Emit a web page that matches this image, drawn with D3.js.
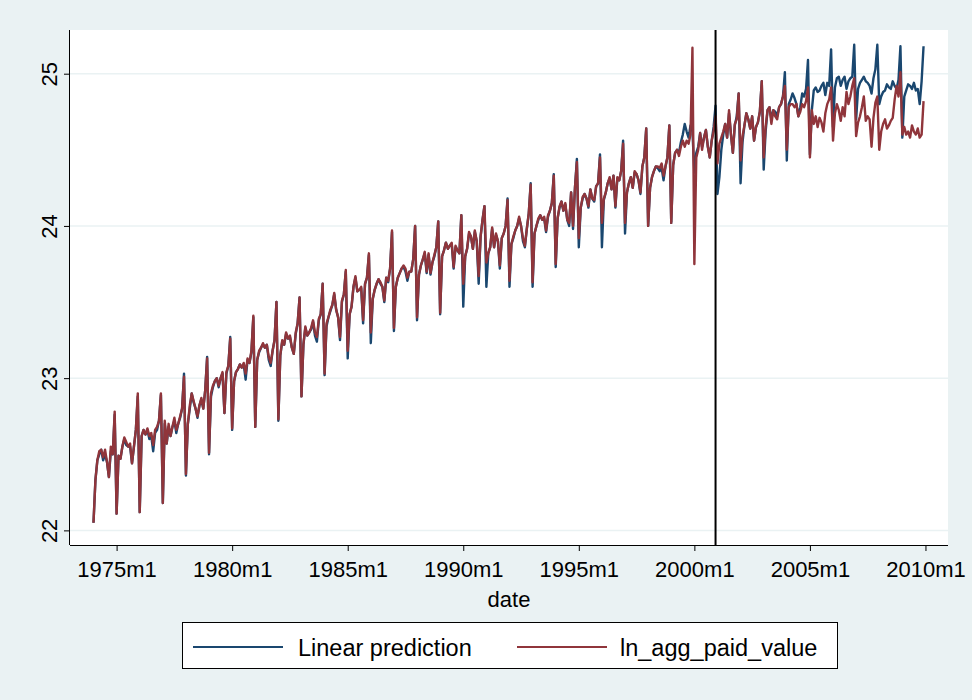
<!DOCTYPE html>
<html>
<head>
<meta charset="utf-8">
<script src="https://cdn.jsdelivr.net/npm/d3@7"></script>
<style>
  html, body { margin: 0; padding: 0; background: #eaf2f3; }
  svg { display: block; }
  text { font-family: "Liberation Sans", Arial, sans-serif; fill: #000; }
</style>
</head>
<body>
<svg id="chart" width="972" height="700"></svg>
<script>
// ---- data (monthly, 1974m1 .. 2009m12) ----
const startYear = 1974;
const seriesNames = ["Linear prediction", "ln_agg_paid_value"];
const xTickLabels = ["1975m1","1980m1","1985m1","1990m1","1995m1","2000m1","2005m1","2010m1"];
const yTickValues = [22, 23, 24, 25];
const tlineLabel = "2000m12";
const xTitle = "date";

const lnAggPaidValue = [
  22.05,22.33,22.46,22.52,22.53,22.48,22.53,22.45,22.35,22.55,22.50,22.78,
  22.11,22.49,22.47,22.55,22.61,22.58,22.55,22.57,22.44,22.55,22.66,22.90,
  22.12,22.62,22.66,22.63,22.67,22.62,22.64,22.56,22.66,22.68,22.72,22.90,
  22.18,22.72,22.57,22.70,22.62,22.68,22.74,22.66,22.70,22.75,22.80,23.01,
  22.37,22.70,22.82,22.90,22.85,22.80,22.75,22.82,22.87,22.80,22.92,23.13,
  22.51,22.90,22.95,22.98,23.00,22.95,23.00,23.04,22.77,23.04,23.08,23.26,
  22.67,22.98,23.04,23.06,23.09,23.07,23.10,23.03,23.13,23.10,23.18,23.41,
  22.68,23.12,23.18,23.20,23.23,23.20,23.22,23.14,23.10,23.18,23.25,23.50,
  22.73,23.15,23.25,23.22,23.30,23.26,23.28,23.20,23.16,23.30,23.36,23.53,
  22.88,23.22,23.34,23.28,23.30,23.33,23.38,23.30,23.27,23.39,23.42,23.62,
  23.03,23.36,23.40,23.45,23.48,23.56,23.45,23.40,23.27,23.51,23.55,23.71,
  23.18,23.42,23.47,23.60,23.67,23.57,23.58,23.60,23.38,23.62,23.66,23.82,
  23.30,23.52,23.58,23.62,23.65,23.63,23.60,23.51,23.66,23.64,23.72,23.97,
  23.33,23.60,23.66,23.69,23.72,23.74,23.72,23.66,23.70,23.70,23.78,24.00,
  23.40,23.68,23.74,23.78,23.83,23.70,23.82,23.69,23.76,23.81,23.86,24.03,
  23.43,23.80,23.84,23.89,23.85,23.87,23.89,23.73,23.87,23.84,23.82,24.07,
  23.62,23.80,23.85,23.96,23.93,23.85,23.97,23.90,23.67,23.93,24.04,24.13,
  23.76,23.82,23.86,23.99,23.86,23.95,23.90,23.74,23.92,23.95,24.00,24.17,
  23.64,23.88,23.93,23.97,24.00,24.06,24.00,23.92,23.87,23.98,24.08,24.27,
  23.63,23.95,24.00,24.05,24.07,24.04,24.06,23.97,24.07,24.10,24.15,24.33,
  23.75,24.05,24.13,24.16,24.10,24.15,24.04,24.02,24.22,24.00,24.25,24.42,
  23.92,24.12,24.19,24.21,24.18,24.13,24.24,24.18,24.17,24.26,24.28,24.45,
  24.02,24.18,24.22,24.28,24.32,24.24,24.33,24.13,24.32,24.30,24.36,24.54,
  24.02,24.22,24.28,24.32,24.25,24.36,24.34,24.30,24.22,24.39,24.45,24.64,
  24.00,24.25,24.32,24.36,24.39,24.39,24.38,24.41,24.33,24.39,24.45,24.66,
  24.02,24.40,24.48,24.50,24.46,24.52,24.56,24.52,24.56,24.54,24.60,25.17,
  23.75,24.45,24.50,24.61,24.50,24.58,24.63,24.52,24.45,24.56,24.62,24.72,
  24.41,24.54,24.58,24.62,24.67,24.58,24.76,24.60,24.48,24.67,24.70,24.87,
  24.43,24.59,24.66,24.74,24.70,24.64,24.72,24.56,24.65,24.68,24.75,24.95,
  24.45,24.65,24.76,24.78,24.67,24.76,24.72,24.70,24.78,24.80,24.85,24.92,
  24.50,24.78,24.80,24.80,24.78,24.80,24.72,24.75,24.80,24.78,24.82,24.91,
  24.45,24.76,24.67,24.72,24.65,24.71,24.68,24.62,24.74,24.80,24.83,24.91,
  24.56,24.74,24.80,24.76,24.69,24.78,24.72,24.88,24.80,24.85,24.92,24.97,
  24.59,24.68,24.72,24.78,24.85,24.69,24.72,24.70,24.52,24.71,24.81,24.85,
  24.50,24.62,24.67,24.70,24.64,24.66,24.69,24.71,24.83,24.92,24.85,25.01,
  24.60,24.65,24.60,24.62,24.58,24.66,24.62,24.60,24.64,24.58,24.60,24.82
];

const linearPrediction = [
  22.05,22.33,22.46,22.50,22.53,22.46,22.50,22.45,22.35,22.52,22.50,22.76,
  22.11,22.49,22.47,22.55,22.60,22.56,22.55,22.55,22.44,22.55,22.66,22.88,
  22.12,22.62,22.66,22.63,22.66,22.60,22.62,22.52,22.64,22.66,22.72,22.89,
  22.18,22.70,22.57,22.68,22.62,22.68,22.72,22.64,22.70,22.74,22.80,23.03,
  22.36,22.70,22.80,22.90,22.84,22.80,22.74,22.82,22.86,22.80,22.92,23.14,
  22.50,22.88,22.94,22.98,23.00,22.94,23.00,23.03,22.77,23.03,23.08,23.27,
  22.66,22.98,23.04,23.06,23.09,23.07,23.09,22.99,23.12,23.10,23.17,23.40,
  22.68,23.12,23.17,23.20,23.22,23.20,23.22,23.12,23.08,23.18,23.25,23.50,
  22.72,23.15,23.24,23.22,23.29,23.26,23.27,23.20,23.16,23.29,23.36,23.53,
  22.88,23.22,23.33,23.28,23.30,23.32,23.37,23.28,23.24,23.38,23.42,23.62,
  23.02,23.34,23.40,23.44,23.48,23.55,23.45,23.40,23.25,23.50,23.55,23.70,
  23.13,23.42,23.47,23.60,23.66,23.57,23.58,23.59,23.36,23.62,23.66,23.81,
  23.23,23.52,23.58,23.62,23.65,23.62,23.60,23.50,23.66,23.63,23.72,23.96,
  23.31,23.60,23.66,23.69,23.72,23.73,23.70,23.64,23.70,23.70,23.78,24.00,
  23.38,23.68,23.74,23.78,23.82,23.69,23.81,23.68,23.76,23.80,23.86,24.03,
  23.42,23.80,23.84,23.89,23.85,23.87,23.88,23.72,23.86,23.84,23.82,24.07,
  23.47,23.80,23.85,23.95,23.93,23.85,23.96,23.90,23.62,23.93,24.04,24.13,
  23.60,23.82,23.86,23.98,23.86,23.94,23.90,23.72,23.92,23.95,24.00,24.18,
  23.60,23.88,23.92,23.97,24.00,24.05,24.00,23.90,23.86,23.98,24.08,24.28,
  23.60,23.95,24.00,24.04,24.07,24.04,24.05,23.96,24.06,24.10,24.15,24.34,
  23.73,24.05,24.12,24.16,24.10,24.14,24.04,24.00,24.22,23.98,24.25,24.44,
  23.86,24.12,24.18,24.21,24.18,24.12,24.24,24.18,24.16,24.26,24.28,24.47,
  23.86,24.17,24.22,24.28,24.31,24.24,24.33,24.12,24.31,24.30,24.36,24.56,
  23.95,24.22,24.28,24.32,24.25,24.35,24.34,24.30,24.21,24.39,24.45,24.64,
  24.00,24.25,24.32,24.36,24.39,24.38,24.36,24.38,24.30,24.39,24.45,24.66,
  24.02,24.40,24.48,24.50,24.48,24.55,24.60,24.67,24.62,24.58,24.66,24.62,
  24.35,24.48,24.52,24.61,24.52,24.58,24.63,24.52,24.45,24.56,24.65,24.79,
  24.21,24.32,24.50,24.60,24.67,24.58,24.74,24.60,24.48,24.66,24.72,24.87,
  24.28,24.55,24.66,24.74,24.70,24.64,24.72,24.56,24.65,24.68,24.75,24.95,
  24.37,24.62,24.76,24.78,24.70,24.76,24.75,24.72,24.78,24.80,24.85,25.01,
  24.43,24.80,24.83,24.87,24.84,24.80,24.72,24.78,24.87,24.85,24.90,25.09,
  24.47,24.76,24.89,24.91,24.88,24.89,24.92,24.94,24.86,24.94,24.92,25.16,
  24.65,24.91,24.97,24.98,24.92,24.96,24.98,24.90,24.95,24.97,24.98,25.19,
  24.70,24.90,24.94,24.96,24.98,24.95,24.94,24.92,24.87,24.97,25.03,25.19,
  24.80,24.85,24.88,24.89,24.93,24.91,24.90,24.95,24.92,24.90,24.96,25.18,
  24.58,24.85,24.89,24.93,24.92,24.90,24.94,24.89,24.90,24.80,24.95,25.18
];

// ---- helpers ----
function monthIndex(label) {           // "YYYYmM" -> months since 1974m1
  const m = label.match(/(\d{4})m(\d+)/);
  return (+m[1] - startYear) * 12 + (+m[2] - 1);
}

const svg = d3.select("#chart");
const W = 972, H = 700;
const plot = { left: 70, right: 948, top: 30, bottom: 545 };

svg.append("rect").attr("width", W).attr("height", H).attr("fill", "#eaf2f3");
svg.append("rect")
  .attr("x", plot.left).attr("y", plot.top)
  .attr("width", plot.right - plot.left).attr("height", plot.bottom - plot.top)
  .attr("fill", "#ffffff");

const x = d3.scaleLinear().domain([-12.2, 443.7]).range([plot.left, plot.right]);
const y = d3.scaleLinear().domain([21.904, 25.287]).range([plot.bottom, plot.top]);

// grid
svg.append("g").selectAll("line").data(yTickValues).join("line")
  .attr("x1", plot.left).attr("x2", plot.right)
  .attr("y1", d => y(d)).attr("y2", d => y(d))
  .attr("stroke", "#eaf2f3").attr("stroke-width", 1.5);

// lines
const line = d3.line().x((d, i) => x(i)).y(d => y(d));
svg.append("path").datum(linearPrediction)
  .attr("d", line).attr("fill", "none")
  .attr("stroke", "#1a476f").attr("stroke-width", 2.4).attr("stroke-linejoin", "round");
svg.append("path").datum(lnAggPaidValue)
  .attr("d", line).attr("fill", "none")
  .attr("stroke", "#90353b").attr("stroke-width", 2.4).attr("stroke-linejoin", "round");

// vertical reference line
svg.append("line")
  .attr("x1", x(monthIndex(tlineLabel))).attr("x2", x(monthIndex(tlineLabel)))
  .attr("y1", plot.top).attr("y2", plot.bottom)
  .attr("stroke", "#000").attr("stroke-width", 2);

// axes
const xAxis = d3.axisBottom(x)
  .tickValues(xTickLabels.map(monthIndex))
  .tickFormat((d, i) => xTickLabels[i])
  .tickSizeOuter(0).tickSize(6).tickPadding(6);
const gx = svg.append("g").attr("transform", `translate(0,${plot.bottom})`).call(xAxis);
gx.select(".domain").attr("stroke", "#000").attr("d", `M${plot.left},0.5H${plot.right}`);
gx.selectAll(".tick line").attr("stroke", "#000");
gx.selectAll(".tick text").attr("font-size", 22).attr("font-family", "Liberation Sans, Arial, sans-serif").attr("dy", "0.9em");

const yAxis = d3.axisLeft(y).tickValues(yTickValues).tickSizeOuter(0).tickSize(6).tickFormat(d3.format("d"));
const gy = svg.append("g").attr("transform", `translate(${plot.left},0)`).call(yAxis);
gy.select(".domain").attr("stroke", "#000").attr("d", `M-0.5,${plot.top}V${plot.bottom}`);
gy.selectAll(".tick line").attr("stroke", "#000");
gy.selectAll(".tick text").remove();
gy.selectAll(".tick").append("text")
  .attr("transform", "translate(-13,0) rotate(-90)")
  .attr("text-anchor", "middle")
  .attr("font-size", 22)
  .attr("font-family", "Liberation Sans, Arial, sans-serif")
  .style("fill", "#000")
  .text(d => d);

// axis title
svg.append("text").attr("x", (plot.left + plot.right) / 2).attr("y", 607)
  .attr("text-anchor", "middle").attr("font-size", 22).text(xTitle);

// legend
const lg = svg.append("g");
lg.append("rect").attr("x", 182.5).attr("y", 622.5).attr("width", 655).attr("height", 46)
  .attr("fill", "#fff").attr("stroke", "#000").attr("stroke-width", 1);
const legendColors = ["#1a476f", "#90353b"];
const legendX = [193, 517];
seriesNames.forEach((name, i) => {
  lg.append("line").attr("x1", legendX[i]).attr("x2", legendX[i] + 90)
    .attr("y1", 647).attr("y2", 647).attr("stroke", legendColors[i]).attr("stroke-width", 2);
  lg.append("text").attr("x", legendX[i] + 105 - (i ? 2 : 0)).attr("y", 656)
    .attr("font-size", 23.5).text(name);
});
</script>
</body>
</html>
